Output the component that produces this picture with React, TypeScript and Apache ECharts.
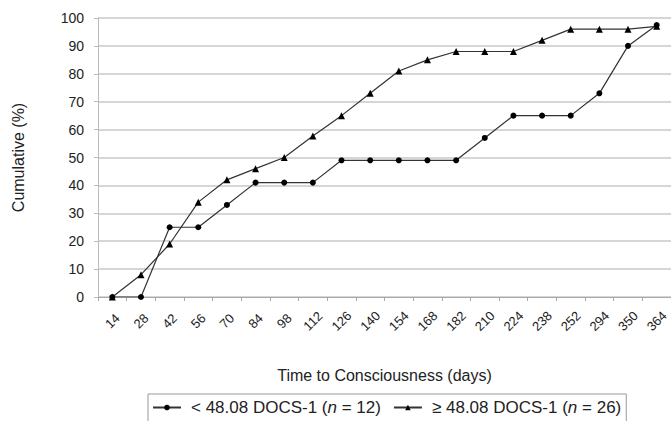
import React, { useEffect, useRef } from "react";
import * as echarts from "echarts";

const days = ["14", "28", "42", "56", "70", "84", "98", "112", "126", "140", "154", "168", "182", "210", "224", "238", "252", "294", "350", "364"];
const lowGroup = [0, 0, 25, 25, 33, 41, 41, 41, 49, 49, 49, 49, 49, 57, 65, 65, 65, 73, 90, 97.5];
const highGroup = [0, 8, 19, 34, 42, 46, 50, 57.7, 65, 73, 81, 85, 88, 88, 88, 92, 96, 96, 96, 97];
const yTicks = [0, 10, 20, 30, 40, 50, 60, 70, 80, 90, 100];
const seriesNames = ["low", "high"];
const legendLabels: Record<string, string> = {
  low: "< 48.08 DOCS-1 ({i|n} = 12)",
  high: "≥ 48.08 DOCS-1 ({i|n} = 26)",
};

export default function App() {
  const ref = useRef<HTMLDivElement>(null);
  useEffect(() => {
    document.body.style.margin = "0";
    const chart = echarts.init(ref.current!, null, { renderer: "svg" });
    const font = "Liberation Sans, Arial, sans-serif";
    chart.setOption({
      animation: false,
      textStyle: { fontFamily: font },
      grid: { left: 98, right: -2, top: 18, bottom: 124 },
      legend: {
        top: 394,
        left: 148,
        itemWidth: 28,
        itemHeight: 7,
        itemGap: 12,
        padding: [5, 5, 8, 4],
        borderColor: "#999",
        borderWidth: 1,
        textStyle: {
          fontSize: 17,
          color: "#222",
          padding: [0, 0, 0, 5],
          rich: { i: { fontStyle: "italic", fontSize: 17, color: "#222" } },
        },
        formatter: (name: string) => legendLabels[name] || name,
        data: seriesNames,
      },
      xAxis: {
        type: "category",
        data: days,
        boundaryGap: true,
        name: "Time to Consciousness (days)",
        nameLocation: "middle",
        nameGap: 70,
        nameTextStyle: { fontSize: 16, color: "#222" },
        axisLine: { lineStyle: { color: "#aaa", width: 1 } },
        axisTick: { show: true, alignWithLabel: false, length: 4, lineStyle: { color: "#aaa" } },
        axisLabel: {
          rotate: 45,
          fontSize: 13,
          color: "#222",
          margin: 24,
          interval: 0,
          align: "center",
          verticalAlign: "middle",
        },
      },
      yAxis: {
        type: "value",
        min: 0,
        max: 100,
        interval: 10,
        name: "Cumulative (%)",
        nameLocation: "middle",
        nameGap: 72,
        nameRotate: 90,
        nameTextStyle: { fontSize: 16, color: "#222" },
        axisLine: { show: true, lineStyle: { color: "#bbb" } },
        axisTick: { show: true, length: 4, lineStyle: { color: "#bbb" } },
        axisLabel: {
          fontSize: 14,
          color: "#222",
          margin: 14,
          formatter: (v: number) => (yTicks.includes(v) ? String(v) : ""),
        },
        splitLine: { lineStyle: { color: "#c8c8c8", width: 1.5 } },
      },
      series: [
        {
          name: "low",
          type: "line",
          data: lowGroup,
          symbol: "circle",
          symbolSize: 6,
          itemStyle: { color: "#000" },
          lineStyle: { color: "#333", width: 1.2 },
        },
        {
          name: "high",
          type: "line",
          data: highGroup,
          symbol: "triangle",
          symbolSize: 7,
          itemStyle: { color: "#000" },
          lineStyle: { color: "#333", width: 1.2 },
        },
      ],
    });
    return () => chart.dispose();
  }, []);
  return <div ref={ref} style={{ width: 671, height: 421 }} />;
}
